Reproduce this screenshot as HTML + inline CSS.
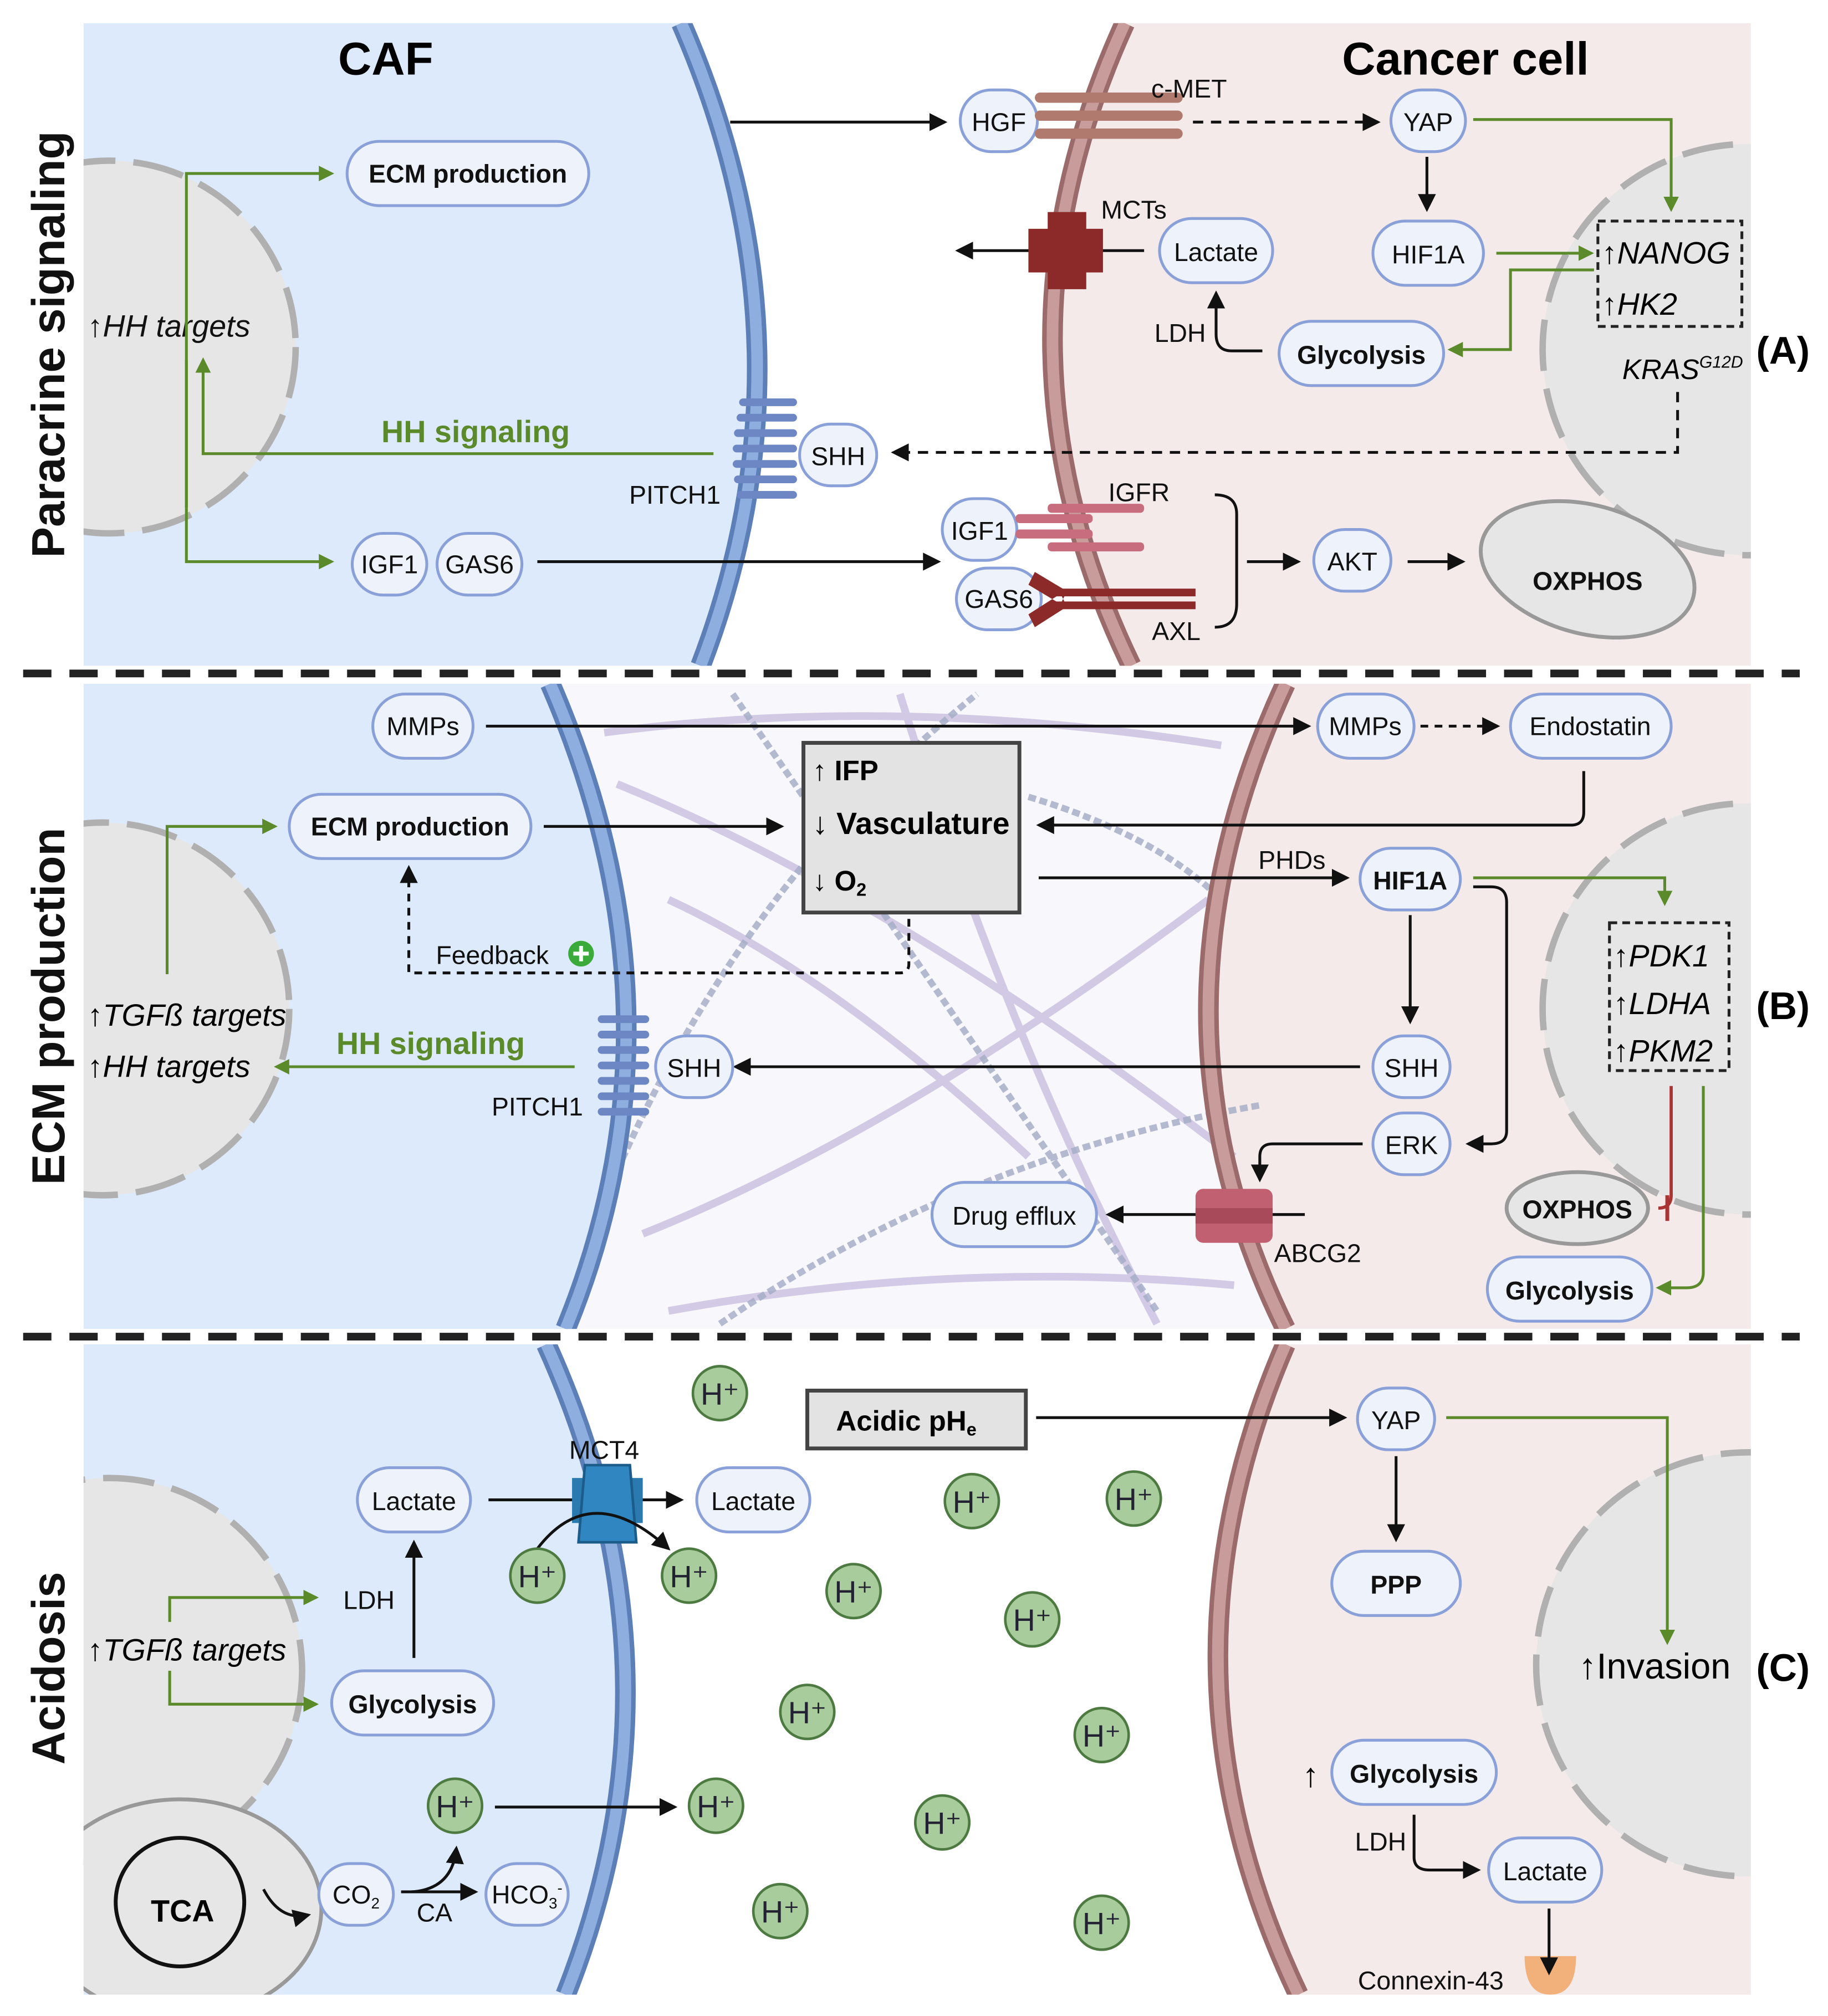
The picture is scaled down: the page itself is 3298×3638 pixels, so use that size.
<!DOCTYPE html>
<html><head><meta charset="utf-8"><style>
html,body{margin:0;padding:0;background:#fff;}
svg{display:block;}
text{font-family:"Liberation Sans",sans-serif;}
</style></head><body>
<svg width="3298" height="3638" viewBox="0 0 1422 1568.6" preserveAspectRatio="none" xmlns="http://www.w3.org/2000/svg">
<defs>
<marker id="ab" markerWidth="10" markerHeight="10" refX="8" refY="5" orient="auto" markerUnits="userSpaceOnUse"><path d="M0,0 L10,5 L0,10 z" fill="#111"/></marker>
<marker id="ag" markerWidth="12" markerHeight="12" refX="10" refY="6" orient="auto" markerUnits="userSpaceOnUse"><path d="M0,0 L12,6 L0,12 z" fill="#5b8a2b"/></marker>
<marker id="ab2" markerWidth="14" markerHeight="14" refX="12" refY="7" orient="auto" markerUnits="userSpaceOnUse"><path d="M0,0 L14,7 L0,14 z" fill="#111"/></marker>
<style>
.p{fill:#eef2fb;stroke:#8aa0d8;stroke-width:2.2}
.t{font-size:20px;fill:#111;text-anchor:middle}
.b{font-size:20px;font-weight:bold;fill:#111;text-anchor:middle}
.k{stroke:#111;stroke-width:2.2;fill:none}
.g{stroke:#5b8a2b;stroke-width:2.2;fill:none}
.n{fill:#e6e6e6;stroke:#b0b0b0;stroke-width:5;stroke-dasharray:40 14}
.h{fill:#a9cc9c;stroke:#4c7a40;stroke-width:2}
.ht{font-size:24px;fill:#223;text-anchor:middle}
</style>
<clipPath id="cA"><rect x="65" y="18" width="1297" height="500"/></clipPath>
<clipPath id="cB"><rect x="65" y="532" width="1297" height="502"/></clipPath>
<clipPath id="cC"><rect x="65" y="1046" width="1297" height="506"/></clipPath>
</defs>
<rect width="1422" height="1568.6" fill="#fff"/>

<!-- PANEL A -->
<g clip-path="url(#cA)">
<path d="M65,18 L530,18 Q640,270 545,518 L65,518 Z" fill="#ddeafb"/>
<path d="M875,18 L1362,18 L1362,518 L880,518 Q760,270 875,18 Z" fill="#f5eaea"/>
<path d="M530,18 Q640,270 545,518" stroke="#5c7fb8" stroke-width="16" fill="none"/>
<path d="M530,18 Q640,270 545,518" stroke="#8eaee0" stroke-width="9" fill="none"/>
<path d="M875,18 Q760,270 880,518" stroke="#9b6a6a" stroke-width="16" fill="none"/>
<path d="M875,18 Q760,270 880,518" stroke="#c99c9c" stroke-width="9" fill="none"/>
<circle cx="85" cy="270" r="145" class="n"/>
<circle cx="1360" cy="272" r="160" class="n"/>
</g>
<!-- PANEL B -->
<g clip-path="url(#cB)">
<rect x="65" y="532" width="1297" height="502" fill="#f8f8fc"/>
<path d="M65,532 L428,532 Q540,790 440,1034 L65,1034 Z" fill="#ddeafb"/>
<path d="M1000,532 L1362,532 L1362,1034 L1000,1034 Q880,790 1000,532 Z" fill="#f5eaea"/>
<g stroke="#c9bfe0" stroke-width="6" fill="none" opacity="0.8">
<path d="M470,570 Q700,540 950,580"/><path d="M480,610 Q700,700 960,900"/><path d="M500,960 Q700,880 940,700"/>
<path d="M520,1020 Q740,980 960,1000"/><path d="M700,540 Q780,800 900,1030"/><path d="M520,700 Q650,760 800,900"/>
</g>
<g stroke="#a3abc6" stroke-width="5" fill="none" stroke-dasharray="6 3" opacity="0.8">
<path d="M570,540 Q680,700 900,1020"/><path d="M460,960 Q560,700 760,540"/><path d="M800,620 Q900,650 950,700"/><path d="M560,1030 Q750,900 980,860"/>
</g>
<path d="M428,532 Q540,790 440,1034" stroke="#5c7fb8" stroke-width="16" fill="none"/>
<path d="M428,532 Q540,790 440,1034" stroke="#8eaee0" stroke-width="9" fill="none"/>
<path d="M1000,532 Q880,790 1000,1034" stroke="#9b6a6a" stroke-width="16" fill="none"/>
<path d="M1000,532 Q880,790 1000,1034" stroke="#c99c9c" stroke-width="9" fill="none"/>
<circle cx="80" cy="785" r="145" class="n"/>
<circle cx="1360" cy="785" r="160" class="n"/>
</g>
<!-- PANEL C -->
<g clip-path="url(#cC)">
<path d="M65,1046 L425,1046 Q540,1300 440,1552 L65,1552 Z" fill="#ddeafb"/>
<path d="M1000,1046 L1362,1046 L1362,1552 L1010,1552 Q890,1300 1000,1046 Z" fill="#f5eaea"/>
<path d="M425,1046 Q540,1300 440,1552" stroke="#5c7fb8" stroke-width="16" fill="none"/>
<path d="M425,1046 Q540,1300 440,1552" stroke="#8eaee0" stroke-width="9" fill="none"/>
<path d="M1000,1046 Q890,1300 1010,1552" stroke="#9b6a6a" stroke-width="16" fill="none"/>
<path d="M1000,1046 Q890,1300 1010,1552" stroke="#c99c9c" stroke-width="9" fill="none"/>
<circle cx="85" cy="1300" r="150" class="n"/>
<circle cx="1360" cy="1295" r="165" class="n"/>
<ellipse cx="140" cy="1485" rx="110" ry="85" fill="#e6e6e6" stroke="#999" stroke-width="3"/>
</g>

<!-- dashed separators -->
<line x1="18" y1="524" x2="1400" y2="524" stroke="#222" stroke-width="6" stroke-dasharray="22 14"/>
<line x1="18" y1="1040" x2="1400" y2="1040" stroke="#222" stroke-width="6" stroke-dasharray="22 14"/>

<!-- side labels -->
<text transform="translate(50,268) rotate(-90)" font-size="36" font-weight="bold" text-anchor="middle" fill="#111">Paracrine signaling</text>
<text transform="translate(50,783) rotate(-90)" font-size="36" font-weight="bold" text-anchor="middle" fill="#111">ECM production</text>
<text transform="translate(50,1298) rotate(-90)" font-size="36" font-weight="bold" text-anchor="middle" fill="#111">Acidosis</text>
<text x="300" y="58" font-size="36" font-weight="bold" text-anchor="middle">CAF</text>
<text x="1140" y="58" font-size="36" font-weight="bold" text-anchor="middle">Cancer cell</text>
<text x="1387" y="283" font-size="30" font-weight="bold" text-anchor="middle">(A)</text>
<text x="1387" y="793" font-size="30" font-weight="bold" text-anchor="middle">(B)</text>
<text x="1387" y="1308" font-size="30" font-weight="bold" text-anchor="middle">(C)</text>

<!-- ===== A content ===== -->
<rect x="270" y="110" width="188" height="50" rx="25" class="p"/><text x="364" y="142" class="b">ECM production</text>
<text x="68" y="262" font-size="24" font-style="italic" fill="#111">↑HH targets</text>
<path d="M145,395 V135 H258" class="g" marker-end="url(#ag)"/>
<path d="M145,280 V395" class="g"/>
<path d="M145,395 V437 H258" class="g" marker-end="url(#ag)"/>
<path d="M555,353 H158 V280" class="g" marker-end="url(#ag)"/>
<text x="370" y="344" font-size="24" font-weight="bold" fill="#5b8a2b" text-anchor="middle">HH signaling</text>
<rect x="274" y="415" width="58" height="48" rx="24" class="p"/><text x="303" y="446" class="t">IGF1</text>
<rect x="340" y="415" width="66" height="48" rx="24" class="p"/><text x="373" y="446" class="t">GAS6</text>
<path d="M418,437 H730" class="k" marker-end="url(#ab2)"/>
<path d="M568,95 H735" class="k" marker-end="url(#ab2)"/>
<g fill="#6d87c4"><rect x="575" y="310" width="45" height="6" rx="3"/><rect x="573" y="322" width="47" height="6" rx="3"/><rect x="571" y="334" width="49" height="6" rx="3"/><rect x="570" y="346" width="50" height="6" rx="3"/><rect x="570" y="358" width="50" height="6" rx="3"/><rect x="571" y="370" width="49" height="6" rx="3"/><rect x="573" y="382" width="47" height="6" rx="3"/></g>
<text x="525" y="392" class="t" font-size="22">PITCH1</text>
<rect x="622" y="330" width="60" height="48" rx="24" class="p"/><text x="652" y="362" class="t">SHH</text>
<path d="M1305,305 V352 H695" class="k" stroke-dasharray="8 6" marker-end="url(#ab2)"/>
<rect x="747" y="70" width="60" height="48" rx="24" class="p"/><text x="777" y="102" class="t">HGF</text>
<g fill="#b07b6e"><rect x="805" y="72" width="115" height="8" rx="4"/><rect x="805" y="86" width="115" height="8" rx="4"/><rect x="805" y="100" width="115" height="8" rx="4"/></g>
<text x="925" y="76" class="t" font-size="22">c-MET</text>
<path d="M928,95 H1072" class="k" stroke-dasharray="8 6" marker-end="url(#ab2)"/>
<rect x="1082" y="70" width="58" height="48" rx="24" class="p"/><text x="1111" y="102" class="t">YAP</text>
<path d="M1146,93 H1300 V163" class="g" marker-end="url(#ag)"/>
<path d="M1110,122 V163" class="k" marker-end="url(#ab2)"/>
<rect x="1068" y="172" width="86" height="50" rx="25" class="p"/><text x="1111" y="205" class="t">HIF1A</text>
<path d="M1164,197 H1238" class="g" marker-end="url(#ag)"/>
<rect x="1243" y="172" width="112" height="82" fill="none" stroke="#222" stroke-width="2.2" stroke-dasharray="6 4"/>
<text x="1246" y="205" font-size="24" font-style="italic">↑NANOG</text>
<text x="1246" y="245" font-size="24" font-style="italic">↑HK2</text>
<path d="M1240,210 H1175 V272 H1128" class="g" marker-end="url(#ag)"/>
<text x="1262" y="295" font-size="22" font-style="italic">KRAS<tspan font-size="13" dy="-9">G12D</tspan></text>
<rect x="995" y="250" width="128" height="50" rx="25" class="p"/><text x="1059" y="283" class="b">Glycolysis</text>
<path d="M982,273 H958 Q946,273 946,260 V228" class="k" marker-end="url(#ab2)"/>
<text x="918" y="266" class="t" font-size="22">LDH</text>
<rect x="902" y="170" width="88" height="50" rx="25" class="p"/><text x="946" y="203" class="t">Lactate</text>
<path d="M890,195 H745" class="k" marker-end="url(#ab2)"/>
<path d="M800,178 H858 V212 H800 Z M815,165 H845 V225 H815 Z" fill="#8c2a2a"/>
<text x="882" y="170" class="t" font-size="22">MCTs</text>
<rect x="733" y="388" width="58" height="48" rx="24" class="p"/><text x="762" y="420" class="t">IGF1</text>
<g fill="#c86d7d"><rect x="790" y="400" width="60" height="7" rx="3"/><rect x="790" y="412" width="60" height="7" rx="3"/><rect x="815" y="392" width="75" height="7" rx="3"/><rect x="815" y="422" width="75" height="7" rx="3"/></g>
<text x="886" y="390" class="t" font-size="22">IGFR</text>
<rect x="744" y="442" width="66" height="48" rx="24" class="p"/><text x="777" y="473" class="t">GAS6</text>
<g fill="#8c2a2a"><rect x="820" y="458" width="110" height="6"/><rect x="820" y="468" width="110" height="6"/><path d="M805,445 L830,460 L825,470 L800,455 Z M805,488 L830,472 L825,462 L800,478 Z"/></g>
<text x="915" y="498" class="t" font-size="22">AXL</text>
<path d="M945,385 Q962,385 962,400 V470 Q962,488 945,488" class="k"/>
<path d="M970,437 H1010" class="k" marker-end="url(#ab2)"/>
<rect x="1022" y="412" width="60" height="48" rx="24" class="p"/><text x="1052" y="444" class="t">AKT</text>
<path d="M1095,437 H1138" class="k" marker-end="url(#ab2)"/>
<ellipse cx="1235" cy="443" rx="85" ry="50" transform="rotate(15 1235 443)" fill="#e6e6e6" stroke="#999" stroke-width="3"/>
<text x="1235" y="459" class="b">OXPHOS</text>

<!-- ===== B content ===== -->
<rect x="290" y="540" width="78" height="50" rx="25" class="p"/><text x="329" y="572" class="t">MMPs</text>
<path d="M378,565 H1018" class="k" marker-end="url(#ab2)"/>
<rect x="1025" y="540" width="75" height="50" rx="25" class="p"/><text x="1062" y="572" class="t">MMPs</text>
<path d="M1105,565 H1165" class="k" stroke-dasharray="6 5" marker-end="url(#ab2)"/>
<rect x="1175" y="540" width="125" height="50" rx="25" class="p"/><text x="1237" y="572" class="t">Endostatin</text>
<path d="M1232,600 V632 Q1232,642 1222,642 H808" class="k" marker-end="url(#ab2)"/>
<rect x="225" y="618" width="188" height="50" rx="25" class="p"/><text x="319" y="650" class="b">ECM production</text>
<path d="M423,643 H608" class="k" marker-end="url(#ab2)"/>
<rect x="625" y="578" width="168" height="132" fill="#e3e3e3" stroke="#444" stroke-width="3"/>
<text x="632" y="607" font-size="22" font-weight="bold">↑ IFP</text>
<text x="632" y="649" font-size="24" font-weight="bold">↓ Vasculature</text>
<text x="632" y="693" font-size="22" font-weight="bold">↓ O<tspan font-size="14" dy="4">2</tspan></text>
<path d="M707,715 V750 Q707,757 700,757 H318 V675" class="k" stroke-dasharray="6 5" marker-end="url(#ab2)"/>
<text x="383" y="750" class="t" font-size="22">Feedback</text>
<circle cx="452" cy="742" r="10" fill="#3aaa3a"/><path d="M446,742 H458 M452,736 V748" stroke="#fff" stroke-width="3"/>
<path d="M808,683 H1048" class="k" marker-end="url(#ab2)"/>
<text x="1005" y="676" class="t" font-size="22">PHDs</text>
<rect x="1058" y="660" width="78" height="48" rx="24" class="p"/><text x="1097" y="692" class="b">HIF1A</text>
<path d="M1146,683 H1295 V703" class="g" marker-end="url(#ag)"/>
<rect x="1252" y="718" width="93" height="115" fill="none" stroke="#222" stroke-width="2.2" stroke-dasharray="6 4"/>
<text x="1255" y="752" font-size="24" font-style="italic">↑PDK1</text>
<text x="1255" y="789" font-size="24" font-style="italic">↑LDHA</text>
<text x="1255" y="826" font-size="24" font-style="italic">↑PKM2</text>
<path d="M1300,845 V930 Q1300,940 1290,940" stroke="#a33" stroke-width="2.5" fill="none"/><path d="M1297,930 V950" stroke="#a33" stroke-width="3"/>
<path d="M1325,845 V990 Q1325,1002 1312,1002 H1290" class="g" marker-end="url(#ag)"/>
<ellipse cx="1227" cy="940" rx="55" ry="28" fill="#e6e6e6" stroke="#999" stroke-width="3"/>
<text x="1227" y="948" class="b">OXPHOS</text>
<rect x="1157" y="978" width="128" height="50" rx="25" class="p"/><text x="1221" y="1011" class="b">Glycolysis</text>
<path d="M1097,712 V795" class="k" marker-end="url(#ab2)"/>
<path d="M1146,690 H1160 Q1172,690 1172,702 V880 Q1172,890 1160,890 H1142" class="k" marker-end="url(#ab2)"/>
<rect x="1068" y="806" width="60" height="48" rx="24" class="p"/><text x="1098" y="838" class="t">SHH</text>
<path d="M1058,830 H572" class="k" marker-end="url(#ab2)"/>
<rect x="510" y="806" width="60" height="48" rx="24" class="p"/><text x="540" y="838" class="t">SHH</text>
<g fill="#6d87c4"><rect x="465" y="790" width="40" height="6" rx="3"/><rect x="465" y="802" width="40" height="6" rx="3"/><rect x="465" y="814" width="40" height="6" rx="3"/><rect x="465" y="826" width="40" height="6" rx="3"/><rect x="465" y="838" width="40" height="6" rx="3"/><rect x="465" y="850" width="40" height="6" rx="3"/><rect x="465" y="862" width="40" height="6" rx="3"/></g>
<text x="418" y="868" class="t" font-size="22">PITCH1</text>
<path d="M447,830 H215" class="g" marker-end="url(#ag)"/>
<text x="335" y="820" font-size="24" font-weight="bold" fill="#5b8a2b" text-anchor="middle">HH signaling</text>
<text x="68" y="798" font-size="24" font-style="italic">↑TGFß targets</text>
<text x="68" y="838" font-size="24" font-style="italic">↑HH targets</text>
<path d="M130,758 V643 H214" class="g" marker-end="url(#ag)"/>
<rect x="1068" y="866" width="60" height="48" rx="24" class="p"/><text x="1098" y="898" class="t">ERK</text>
<path d="M1060,890 H990 Q980,890 980,900 V918" class="k" marker-end="url(#ab2)"/>
<path d="M1015,945 H862" class="k" marker-end="url(#ab2)"/>
<rect x="930" y="925" width="60" height="42" rx="6" fill="#c06070"/><rect x="930" y="940" width="60" height="12" fill="#a84a5a"/>
<text x="1025" y="982" class="t" font-size="22">ABCG2</text>
<rect x="725" y="920" width="128" height="50" rx="25" class="p"/><text x="789" y="953" class="t">Drug efflux</text>

<!-- ===== C content ===== -->
<rect x="628" y="1082" width="170" height="45" fill="#e3e3e3" stroke="#444" stroke-width="3"/>
<text x="705" y="1113" font-size="22" font-weight="bold" text-anchor="middle">Acidic pH<tspan font-size="14" dy="4">e</tspan></text>
<path d="M806,1103 H1046" class="k" marker-end="url(#ab2)"/>
<rect x="1056" y="1080" width="60" height="48" rx="24" class="p"/><text x="1086" y="1112" class="t">YAP</text>
<path d="M1125,1103 H1297 V1278" class="g" marker-end="url(#ag)"/>
<path d="M1086,1133 V1198" class="k" marker-end="url(#ab2)"/>
<rect x="1036" y="1207" width="100" height="50" rx="25" class="p"/><text x="1086" y="1240" class="b">PPP</text>
<text x="1228" y="1306" font-size="28">↑Invasion</text>
<text x="1013" y="1390" font-size="26">↑</text>
<rect x="1036" y="1354" width="128" height="50" rx="25" class="p"/><text x="1100" y="1387" class="b">Glycolysis</text>
<path d="M1100,1412 V1445 Q1100,1455 1112,1455 H1150" class="k" marker-end="url(#ab2)"/>
<text x="1074" y="1440" class="t" font-size="22">LDH</text>
<rect x="1158" y="1430" width="88" height="50" rx="25" class="p"/><text x="1202" y="1463" class="t">Lactate</text>
<path d="M1186,1522 Q1186,1552 1206,1552 Q1226,1552 1226,1522 Z" fill="#f2b07a"/>
<path d="M1205,1485 V1535" class="k" marker-end="url(#ab2)"/>
<text x="1113" y="1548" class="t" font-size="22">Connexin-43</text>

<text x="470" y="1135" class="t" font-size="22">MCT4</text>
<rect x="278" y="1142" width="88" height="50" rx="25" class="p"/><text x="322" y="1175" class="t">Lactate</text>
<path d="M380,1167 H530" class="k" marker-end="url(#ab2)"/>
<path d="M445,1150 H500 V1185 H445 Z" fill="#2a7ab0"/><path d="M455,1140 L490,1140 L495,1200 L450,1200 Z" fill="#2f86c0" stroke="#1b5c8a" stroke-width="2"/>
<rect x="542" y="1142" width="88" height="50" rx="25" class="p"/><text x="586" y="1175" class="t">Lactate</text>
<path d="M418,1205 Q460,1150 520,1205" class="k" marker-end="url(#ab2)"/>
<text x="68" y="1292" font-size="24" font-style="italic">↑TGFß targets</text>
<path d="M132,1262 V1243 H246" class="g" marker-end="url(#ag)"/>
<path d="M132,1300 V1326 H246" class="g" marker-end="url(#ag)"/>
<text x="287" y="1252" class="t" font-size="22">LDH</text>
<path d="M322,1290 V1200" class="k" marker-end="url(#ab2)"/>
<rect x="258" y="1300" width="126" height="50" rx="25" class="p"/><text x="321" y="1333" class="b">Glycolysis</text>
<path d="M385,1406 H525" class="k" marker-end="url(#ab2)"/>
<circle cx="140" cy="1480" r="50" fill="none" stroke="#111" stroke-width="3"/>
<text x="142" y="1495" font-size="24" font-weight="bold" text-anchor="middle">TCA</text>
<path d="M205,1470 Q218,1495 240,1490" class="k" marker-end="url(#ab2)"/>
<rect x="248" y="1450" width="58" height="48" rx="24" class="p"/><text x="277" y="1481" class="t" font-size="19">CO<tspan font-size="12" dy="4">2</tspan></text>
<path d="M312,1472 H370" class="k" marker-end="url(#ab2)"/>
<path d="M320,1472 Q352,1470 355,1438" class="k" marker-end="url(#ab2)"/>
<text x="338" y="1495" class="t" font-size="22">CA</text>
<rect x="378" y="1450" width="64" height="48" rx="24" class="p"/><text x="410" y="1481" class="t" font-size="19">HCO<tspan font-size="12" dy="4">3</tspan><tspan font-size="12" dy="-12">-</tspan></text>

<g>
<circle cx="560" cy="1084" r="21" class="h"/><text x="560" y="1093" class="ht">H⁺</text>
<circle cx="418" cy="1226" r="21" class="h"/><text x="418" y="1235" class="ht">H⁺</text>
<circle cx="536" cy="1226" r="21" class="h"/><text x="536" y="1235" class="ht">H⁺</text>
<circle cx="756" cy="1168" r="21" class="h"/><text x="756" y="1177" class="ht">H⁺</text>
<circle cx="882" cy="1166" r="21" class="h"/><text x="882" y="1175" class="ht">H⁺</text>
<circle cx="664" cy="1238" r="21" class="h"/><text x="664" y="1247" class="ht">H⁺</text>
<circle cx="803" cy="1260" r="21" class="h"/><text x="803" y="1269" class="ht">H⁺</text>
<circle cx="628" cy="1332" r="21" class="h"/><text x="628" y="1341" class="ht">H⁺</text>
<circle cx="857" cy="1350" r="21" class="h"/><text x="857" y="1359" class="ht">H⁺</text>
<circle cx="354" cy="1405" r="21" class="h"/><text x="354" y="1414" class="ht">H⁺</text>
<circle cx="557" cy="1405" r="21" class="h"/><text x="557" y="1414" class="ht">H⁺</text>
<circle cx="733" cy="1418" r="21" class="h"/><text x="733" y="1427" class="ht">H⁺</text>
<circle cx="607" cy="1487" r="21" class="h"/><text x="607" y="1496" class="ht">H⁺</text>
<circle cx="857" cy="1496" r="21" class="h"/><text x="857" y="1505" class="ht">H⁺</text>
</g>
</svg>
</body></html>
